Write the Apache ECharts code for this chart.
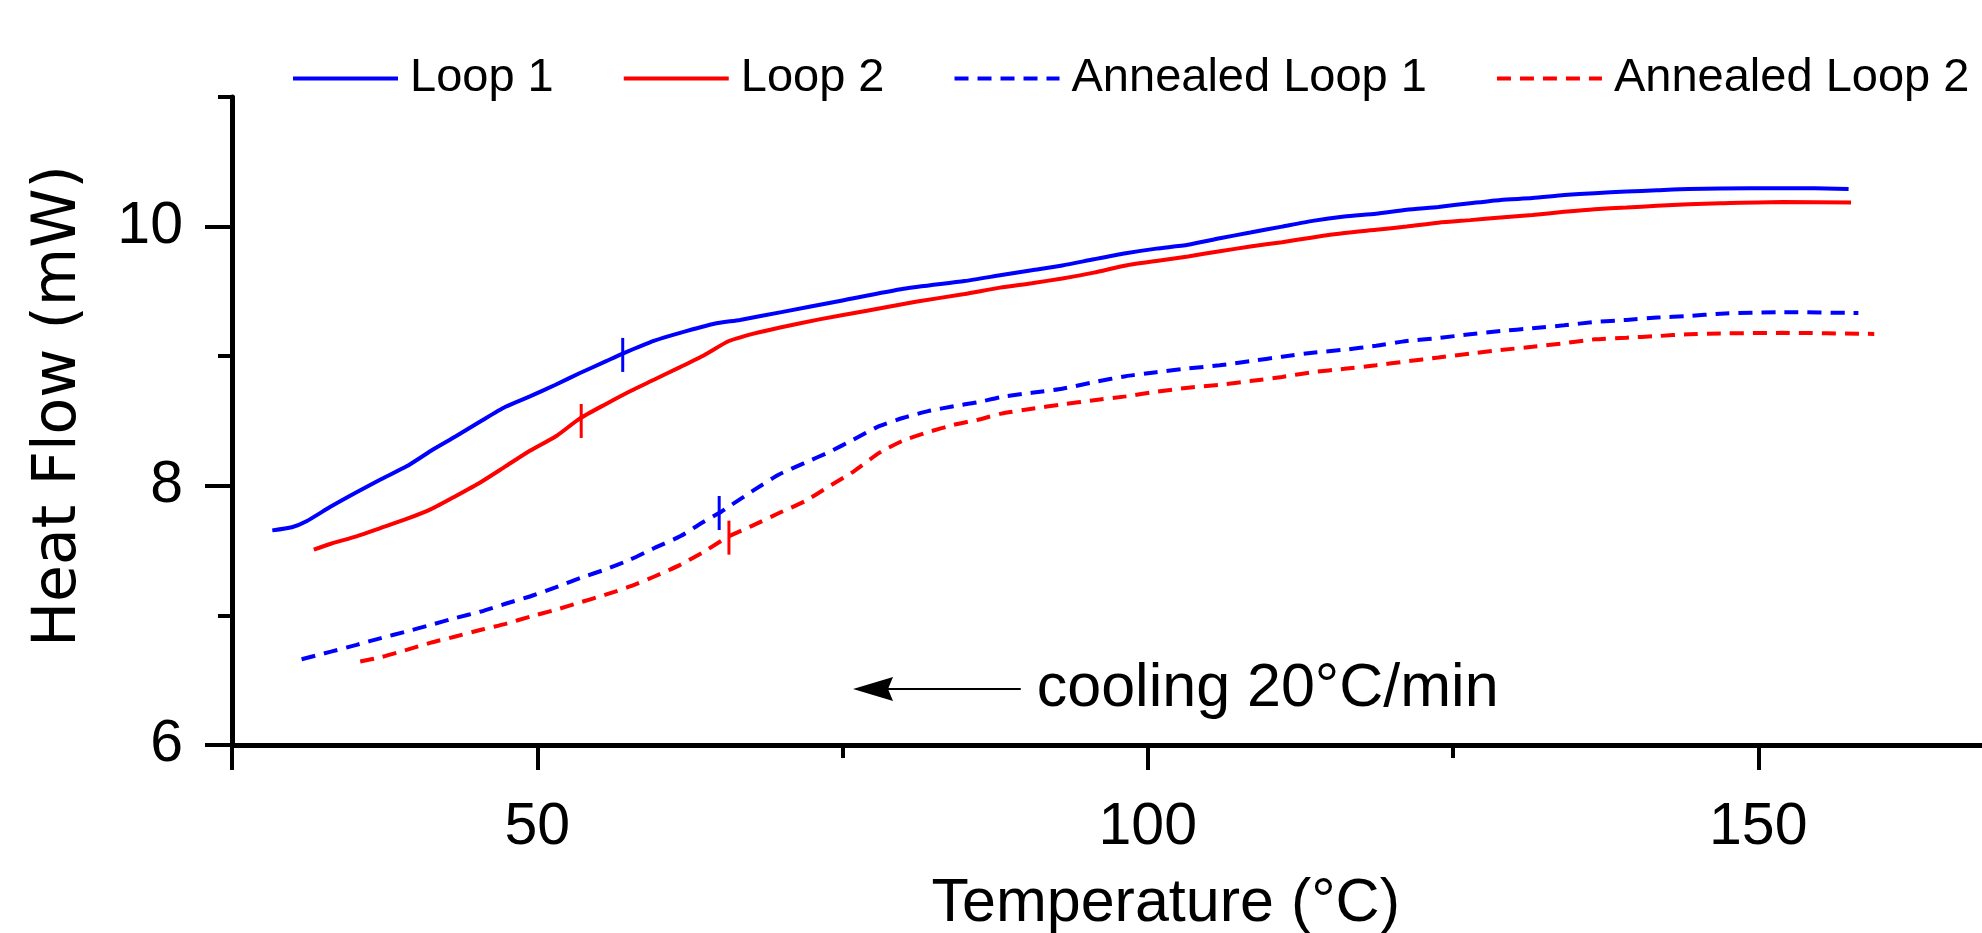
<!DOCTYPE html>
<html><head><meta charset="utf-8">
<script src="https://cdn.jsdelivr.net/npm/echarts@6/dist/echarts.min.js"></script>
<style>html,body{margin:0;padding:0;background:#fff}#c{width:1982px;height:933px}</style>
</head><body><div id="c"></div>
<script>
// ---- data ----
const seriesNames = ['Loop 1', 'Loop 2', 'Annealed Loop 1', 'Annealed Loop 2'];
const loop1 = [[28.3,7.656],[29.9,7.68],[31.1,7.726],[33.1,7.84],[35.2,7.95],[37.2,8.05],[39.3,8.15],[41.3,8.27],[43.3,8.38],[45.4,8.50],[47.4,8.61],[49.4,8.69],[51.5,8.78],[53.5,8.87],[55.6,8.96],[57.0,9.02],[59.6,9.12],[61.7,9.18],[64.5,9.25],[66.6,9.28],[70,9.34],[75,9.43],[80,9.52],[85,9.58],[87.9,9.624],[90.5,9.663],[93.0,9.70],[95.6,9.748],[98.2,9.794],[100.7,9.83],[103.3,9.86],[105.9,9.91],[108.4,9.954],[111.0,10.0],[113.5,10.044],[116.1,10.078],[118.7,10.10],[121.2,10.13],[123.8,10.152],[126.4,10.18],[128.9,10.206],[131.5,10.22],[134.1,10.243],[136.6,10.258],[139.2,10.27],[141.7,10.28],[144.3,10.29],[149.4,10.296],[154.6,10.296],[157.4,10.29]];
const loop2 = [[31.7,7.507],[33.1,7.553],[35.2,7.61],[37.2,7.675],[39.3,7.744],[41.3,7.82],[43.3,7.92],[45.4,8.03],[47.4,8.15],[49.4,8.27],[51.5,8.38],[53.5,8.52],[55.6,8.63],[57.6,8.73],[59.6,8.82],[61.7,8.916],[63.7,9.01],[65.7,9.117],[67.8,9.176],[69.8,9.22],[73.1,9.284],[77,9.35],[81,9.42],[85,9.48],[87.9,9.529],[90.5,9.563],[93.0,9.60],[95.6,9.645],[98.2,9.70],[100.7,9.735],[103.3,9.77],[105.9,9.81],[108.4,9.846],[111.0,9.88],[113.5,9.916],[116.1,9.95],[118.7,9.975],[121.2,10.0],[123.8,10.03],[126.4,10.05],[128.9,10.07],[131.5,10.09],[134.1,10.114],[136.6,10.134],[139.2,10.147],[141.7,10.16],[144.3,10.173],[146.9,10.18],[152.0,10.19],[157.6,10.186]];
const annealed1 = [[30.7,6.662],[33.1,6.72],[35.2,6.773],[37.2,6.825],[39.3,6.876],[41.3,6.927],[43.3,6.98],[45.4,7.03],[47.4,7.09],[49.4,7.146],[51.5,7.216],[53.5,7.288],[55.6,7.355],[57.6,7.43],[59.6,7.52],[61.7,7.61],[63.7,7.726],[64.9,7.79],[65.7,7.84],[67.8,7.97],[69.8,8.087],[71.9,8.177],[73.9,8.26],[75.9,8.357],[78.0,8.46],[80.0,8.525],[82.0,8.576],[84.1,8.614],[86.1,8.645],[88.0,8.685],[90.5,8.718],[93.0,8.749],[95.6,8.80],[98.2,8.846],[100.7,8.877],[103.3,8.906],[105.9,8.93],[108.4,8.962],[111.0,8.996],[113.5,9.027],[116.1,9.05],[118.7,9.08],[121.2,9.117],[123.8,9.14],[126.4,9.17],[128.9,9.194],[131.5,9.215],[134.1,9.238],[136.6,9.264],[139.2,9.28],[141.7,9.298],[144.3,9.31],[146.9,9.328],[152.0,9.34],[158.2,9.333]];
const annealed2 = [[35.5,6.644],[37.2,6.678],[39.3,6.734],[41.3,6.79],[43.3,6.837],[45.4,6.889],[47.4,6.935],[49.4,6.99],[51.5,7.043],[53.5,7.10],[55.6,7.16],[57.6,7.223],[59.6,7.30],[61.7,7.39],[63.7,7.494],[65.7,7.61],[67.8,7.70],[69.8,7.79],[71.9,7.88],[73.9,7.996],[75.9,8.11],[78.0,8.254],[80.0,8.35],[82.0,8.414],[84.1,8.47],[86.1,8.51],[88.0,8.557],[90.5,8.594],[93.0,8.628],[95.6,8.66],[98.2,8.69],[100.7,8.726],[103.3,8.757],[105.9,8.78],[108.4,8.808],[111.0,8.84],[113.5,8.877],[116.1,8.903],[118.7,8.93],[121.2,8.96],[123.8,8.99],[126.4,9.02],[128.9,9.047],[131.5,9.073],[134.1,9.10],[136.6,9.13],[139.2,9.143],[141.7,9.155],[144.3,9.17],[146.9,9.176],[152.0,9.18],[159.5,9.172]];
// transition markers (vertical ticks on each curve)
const transitionPoints = [[57.0, 9.01], [53.6, 8.50], [64.9, 7.79], [65.7, 7.60]];
// axis ticks and labels
const xLabelValues = [50, 100, 150];
const xMajorTicks = [25, 50, 100, 150];
const xMinorTicks = [75, 125];
const yLabelValues = [6, 8, 10];
const yMinorTicks = [7, 9, 11];
// annotation: arrow from right point to arrow-head centre
const coolingText = 'cooling 20°C/min';
const coolingArrow = [[89.6, 6.433], [77.5, 6.433]];

const FONT = 'Liberation Sans, Arial, sans-serif';
const colors = ['#0000ff', '#ff0000', '#0000ff', '#ff0000'];
const dataSets = [loop1, loop2, annealed1, annealed2];
const dashed = [false, false, true, true];
const ARROW_PATH = 'path://M12,0 L24,40 L12,35 L0,40 Z';

const chart = echarts.init(document.getElementById('c'), null, {renderer: 'canvas'});

const series = dataSets.map((d, i) => {
  const s = {
    name: seriesNames[i],
    type: 'line',
    data: d,
    symbol: 'none',
    showSymbol: false,
    smooth: 0.2,
    xAxisIndex: 0, yAxisIndex: 0,
    color: colors[i],
    lineStyle: {color: colors[i], width: 4, type: dashed[i] ? [14, 9] : 'solid'},
    markPoint: {
      symbol: 'rect',
      symbolSize: [3, 34],
      silent: true,
      label: {show: false},
      itemStyle: {color: colors[i]},
      data: [{coord: transitionPoints[i]}]
    },
    animation: false
  };
  if (i === 0) {
    s.markLine = {
      silent: true,
      symbol: ['none', 'none'],
      lineStyle: {color: '#000', width: 2, type: 'solid'},
      label: {
        show: true, position: 'start', distance: 16,
        formatter: coolingText, color: '#000',
        fontFamily: FONT, fontSize: 61
      },
      data: [[
        {coord: coolingArrow[0], symbol: 'none'},
        {coord: coolingArrow[1], symbol: ARROW_PATH, symbolSize: 40, symbolKeepAspect: true}
      ]]
    };
  }
  return s;
});

const option = {
  backgroundColor: '#fff',
  animation: false,
  textStyle: {fontFamily: FONT},
  legend: {
    data: seriesNames,
    left: 286, top: 50,
    itemWidth: 105, itemHeight: 20, itemGap: 68,
    itemStyle: {opacity: 0},
    lineStyle: {width: 4},
    textStyle: {fontFamily: FONT, fontSize: 47, color: '#000', padding: [0, 0, 0, 7]}
  },
  grid: {left: 232, top: 97, bottom: 188, right: -81.5, containLabel: false, outerBoundsMode: 'none'},
  xAxis: [{
    type: 'value', min: 25, max: 175, position: 'bottom',
    name: 'Temperature (°C)', nameLocation: 'middle', nameGap: 129,
    nameTextStyle: {fontFamily: FONT, fontSize: 61, color: '#000', padding: [0, 0, 0, 36]},
    axisLine: {show: true, onZero: false, lineStyle: {color: '#000', width: 5}},
    axisTick: {show: true, inside: false, length: 25, lineStyle: {color: '#000', width: 4}, customValues: xMajorTicks},
    axisLabel: {show: true, margin: 53, fontFamily: FONT, fontSize: 59, color: '#000', customValues: xLabelValues},
    splitLine: {show: false}
  }, {
    type: 'value', min: 25, max: 175, position: 'bottom',
    axisLine: {show: false, onZero: false},
    axisTick: {show: true, inside: false, length: 13, lineStyle: {color: '#000', width: 4}, customValues: xMinorTicks},
    axisLabel: {show: false},
    splitLine: {show: false}
  }],
  yAxis: [{
    type: 'value', min: 6, max: 11, position: 'left',
    name: 'Heat Flow (mW)', nameLocation: 'middle', nameGap: 143, nameRotate: 90,
    nameTextStyle: {fontFamily: 'DejaVu Sans, sans-serif', fontSize: 60, color: '#000', padding: [0, 0, 0, 30]},
    axisLine: {show: true, onZero: false, lineStyle: {color: '#000', width: 5}},
    axisTick: {show: true, inside: false, length: 27, lineStyle: {color: '#000', width: 4}, customValues: yLabelValues},
    axisLabel: {show: true, margin: 49, fontFamily: FONT, fontSize: 59, color: '#000', customValues: yLabelValues},
    splitLine: {show: false}
  }, {
    type: 'value', min: 6, max: 11, position: 'left',
    axisLine: {show: false, onZero: false},
    axisTick: {show: true, inside: false, length: 14, lineStyle: {color: '#000', width: 4}, customValues: yMinorTicks},
    axisLabel: {show: false},
    splitLine: {show: false}
  }],
  series: series
};
chart.setOption(option);
</script></body></html>
